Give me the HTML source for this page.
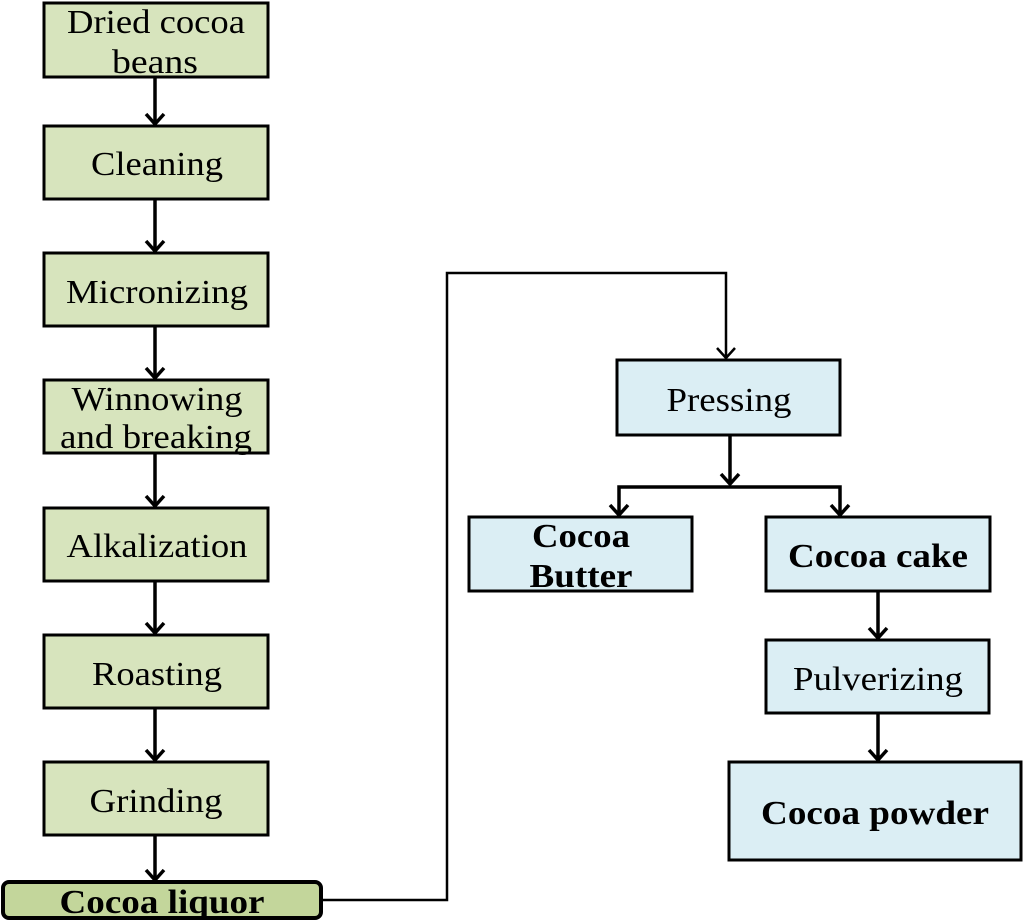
<!DOCTYPE html>
<html><head><meta charset="utf-8"><style>html,body{margin:0;padding:0;background:#fff}svg{display:block}text{font-family:"Liberation Serif","Times New Roman",serif}</style></head>
<body>
<svg width="1024" height="923" viewBox="0 0 1024 923" xmlns="http://www.w3.org/2000/svg">
<g stroke="#000" stroke-width="3" fill="#d7e4bd">
<rect x="44" y="3" width="224" height="74"/>
<rect x="44" y="126" width="224" height="73"/>
<rect x="44" y="253" width="224" height="73"/>
<rect x="44" y="380" width="224" height="73"/>
<rect x="44" y="508" width="224" height="73"/>
<rect x="44" y="635" width="224" height="73"/>
<rect x="44" y="762" width="224" height="73"/>
<rect x="3" y="882" width="318" height="36" rx="6" fill="#c3d69b" stroke-width="4"/>
</g>
<g stroke="#000" stroke-width="3" fill="#dbeef4">
<rect x="617" y="360" width="223" height="75"/>
<rect x="469" y="517" width="223" height="74"/>
<rect x="766" y="517" width="224" height="74"/>
<rect x="766" y="640" width="223" height="73"/>
<rect x="729" y="762" width="292" height="98"/>
</g>
<g stroke="#000" stroke-width="3.5" fill="none">
<path d="M155 77V124M155 199V251M155 326V378M155 453V506M155 581V633M155 708V760M155 835V880"/>
<path d="M146 114l9 10 9-10M146 241l9 10 9-10M146 368l9 10 9-10M146 496l9 10 9-10M146 623l9 10 9-10M146 750l9 10 9-10M146 870l9 10 9-10"/>
<path d="M322 900H447V273H726V358M717 348l9 10 9-10" stroke-width="2.5"/>
<path d="M730 435V484M721 474l9 10 9-10"/>
<path d="M619 515V487H840V515M610 505l9 10 9-10M831 505l9 10 9-10"/>
<path d="M878 591V638M869 628l9 10 9-10M878 713V760M869 750l9 10 9-10"/>
</g>
<g font-size="34" fill="#000" text-anchor="middle">
<text x="156" y="33" textLength="178" lengthAdjust="spacingAndGlyphs">Dried cocoa</text>
<text x="155" y="73" textLength="86" lengthAdjust="spacingAndGlyphs">beans</text>
<text x="157" y="175" textLength="132" lengthAdjust="spacingAndGlyphs">Cleaning</text>
<text x="157" y="303" textLength="182" lengthAdjust="spacingAndGlyphs">Micronizing</text>
<text x="157" y="410" textLength="171" lengthAdjust="spacingAndGlyphs">Winnowing</text>
<text x="156" y="448" textLength="192" lengthAdjust="spacingAndGlyphs">and breaking</text>
<text x="157" y="557" textLength="181" lengthAdjust="spacingAndGlyphs">Alkalization</text>
<text x="157" y="685" textLength="130" lengthAdjust="spacingAndGlyphs">Roasting</text>
<text x="156" y="812" textLength="133" lengthAdjust="spacingAndGlyphs">Grinding</text>
<text x="729" y="411" textLength="125" lengthAdjust="spacingAndGlyphs">Pressing</text>
<text x="878" y="690" textLength="170" lengthAdjust="spacingAndGlyphs">Pulverizing</text>
</g>
<g font-size="34" font-weight="bold" fill="#000" text-anchor="middle">
<text x="162" y="913" textLength="205" lengthAdjust="spacingAndGlyphs">Cocoa liquor</text>
<text x="581" y="547" textLength="98" lengthAdjust="spacingAndGlyphs">Cocoa</text>
<text x="581" y="587" textLength="103" lengthAdjust="spacingAndGlyphs">Butter</text>
<text x="878" y="567" textLength="180" lengthAdjust="spacingAndGlyphs">Cocoa cake</text>
<text x="875" y="824" textLength="228" lengthAdjust="spacingAndGlyphs">Cocoa powder</text>
</g>
</svg>
</body></html>
